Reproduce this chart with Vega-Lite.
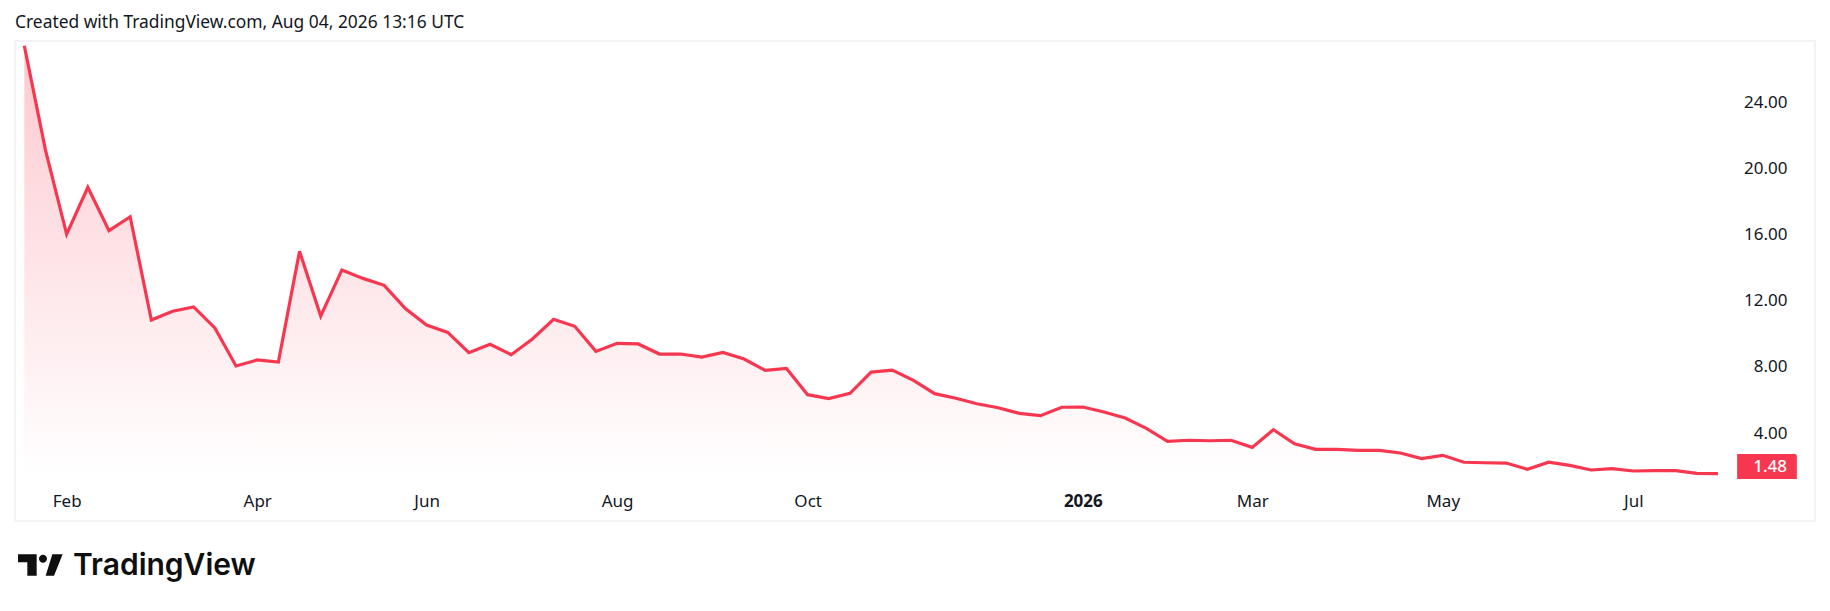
{
  "$schema": "https://vega.github.io/schema/vega-lite/v6.json",
  "width": 1800,
  "height": 480,
  "autosize": "none",
  "padding": {"left": 15, "top": 41, "right": 15, "bottom": 90},
  "background": "white",
  "config": {
    "view": {"stroke": "#f2f3f5", "strokeWidth": 2},
    "font": "Noto Sans"
  },
  "title": {
    "text": "Created with TradingView.com, Aug 04, 2026 13:16 UTC",
    "anchor": "start",
    "frame": "group",
    "font": "Noto Sans",
    "fontSize": 17.4,
    "fontWeight": "normal",
    "color": "#131722",
    "offset": 8
  },
  "layer": [
    {
      "data": {"name": "weekly"},
      "mark": {
        "type": "area",
        "line": false,
        "color": {
          "gradient": "linear",
          "x1": 0, "x2": 0, "y1": 0, "y2": 1,
          "stops": [
            {"offset": 0, "color": "#f7374f45"},
            {"offset": 1, "color": "#f7374f00"}
          ]
        }
      },
      "encoding": {
        "x": {
          "field": "date",
          "type": "temporal",
          "title": null,
          "scale": {"type": "utc", "domain": ["2025-01-16T22:00:00Z", "2026-09-04T02:00:00Z"]},
          "axis": {
            "orient": "bottom",
            "values": ["2025-02-03", "2025-04-07", "2025-06-02", "2025-08-04", "2025-10-06", "2026-01-05", "2026-03-02", "2026-05-04", "2026-07-06"],
            "labelExpr": "utcmonth(datum.value) == 0 ? '2026' : utcFormat(datum.value, '%b')",
            "labelFontWeight": {"condition": {"test": "utcmonth(datum.value) == 0", "value": "bold"}, "value": "normal"},
            "domain": false,
            "ticks": false,
            "grid": false,
            "labelPadding": -20,
            "labelBaseline": "middle",
            "labelAlign": "center",
            "labelFont": "Noto Sans",
            "labelFontSize": 17,
            "labelColor": "#131722",
            "labelOverlap": false,
            "labelFlush": false
          }
        },
        "y": {
          "field": "close",
          "type": "quantitative",
          "title": null,
          "scale": {"domain": [-1.387, 27.67], "nice": false, "zero": false},
          "axis": {
            "orient": "right",
            "values": [4, 8, 12, 16, 20, 24],
            "format": ".2f",
            "domain": false,
            "ticks": false,
            "grid": false,
            "labelPadding": -28,
            "labelOffset": 1,
            "labelAlign": "right",
            "labelBaseline": "middle",
            "labelFont": "Noto Sans",
            "labelFontSize": 17,
            "labelColor": "#131722",
            "labelOverlap": false,
            "labelFlush": false
          }
        },
        "y2": {"datum": 1.3}
      }
    },
    {
      "data": {"name": "weekly"},
      "mark": {"type": "line", "color": "#f7374f", "strokeWidth": 3.2, "strokeJoin": "miter"},
      "encoding": {
        "x": {"field": "date", "type": "temporal"},
        "y": {"field": "close", "type": "quantitative"}
      }
    },
    {
      "data": {"values": [{"last": "1.48"}]},
      "mark": {"type": "rect", "color": "#f7374f", "cornerRadiusTopRight": 2},
      "encoding": {
        "x": {"datum": {"year": 2026, "month": 8, "date": 9, "hours": 8, "utc": true}, "type": "temporal"},
        "x2": {"datum": {"year": 2026, "month": 8, "date": 29, "hours": 2, "utc": true}},
        "y": {"datum": 2.67, "type": "quantitative"},
        "y2": {"datum": 1.155}
      }
    },
    {
      "data": {"values": [{"last": "1.48"}]},
      "mark": {"type": "text", "align": "right", "baseline": "middle", "color": "white", "font": "Noto Sans", "fontSize": 17, "fontWeight": 500},
      "encoding": {
        "x": {"datum": {"year": 2026, "month": 8, "date": 25, "hours": 20, "utc": true}, "type": "temporal"},
        "y": {"datum": 1.91, "type": "quantitative"},
        "text": {"field": "last"}
      }
    },
    {
      "data": {"values": [{"brand": "logo"}]},
      "mark": {
        "type": "point",
        "filled": true,
        "opacity": 1,
        "size": 1995,
        "color": "#0f0f0f",
        "shape": "M-1 -0.478 H-0.164 V0.478 H-0.582 V-0.119 H-1 Z M0.299 -0.284 A0.18 0.18 0 1 1 -0.061 -0.284 A0.18 0.18 0 1 1 0.299 -0.284 Z M0.537 -0.478 H1 L0.612 0.478 H0.239 Z"
      },
      "encoding": {
        "x": {"datum": {"year": 2025, "month": 1, "date": 25, "hours": 7, "utc": true}, "type": "temporal"},
        "y": {"datum": -4.05, "type": "quantitative"}
      }
    },
    {
      "data": {"values": [{"brand": "TradingView"}]},
      "mark": {"type": "text", "align": "left", "baseline": "middle", "color": "#0f0f0f", "font": "Inter", "fontSize": 30, "fontWeight": 600},
      "encoding": {
        "x": {"datum": {"year": 2025, "month": 2, "date": 5, "hours": 2, "utc": true}, "type": "temporal"},
        "y": {"datum": -4.11, "type": "quantitative"},
        "text": {"field": "brand"}
      }
    }
  ],
  "datasets": {
    "weekly": [
      {"date": "2025-01-20", "close": 27.38},
      {"date": "2025-01-27", "close": 21.07},
      {"date": "2025-02-03", "close": 15.97},
      {"date": "2025-02-10", "close": 18.81},
      {"date": "2025-02-17", "close": 16.19},
      {"date": "2025-02-24", "close": 17.03},
      {"date": "2025-03-03", "close": 10.78},
      {"date": "2025-03-10", "close": 11.31},
      {"date": "2025-03-17", "close": 11.57},
      {"date": "2025-03-24", "close": 10.3},
      {"date": "2025-03-31", "close": 8.0},
      {"date": "2025-04-07", "close": 8.36},
      {"date": "2025-04-14", "close": 8.24},
      {"date": "2025-04-21", "close": 14.94},
      {"date": "2025-04-28", "close": 11.02},
      {"date": "2025-05-05", "close": 13.81},
      {"date": "2025-05-12", "close": 13.3},
      {"date": "2025-05-19", "close": 12.88},
      {"date": "2025-05-26", "close": 11.47},
      {"date": "2025-06-02", "close": 10.48},
      {"date": "2025-06-09", "close": 10.03},
      {"date": "2025-06-16", "close": 8.8},
      {"date": "2025-06-23", "close": 9.31},
      {"date": "2025-06-30", "close": 8.68},
      {"date": "2025-07-07", "close": 9.63},
      {"date": "2025-07-14", "close": 10.82},
      {"date": "2025-07-21", "close": 10.4},
      {"date": "2025-07-28", "close": 8.88},
      {"date": "2025-08-04", "close": 9.37},
      {"date": "2025-08-11", "close": 9.33},
      {"date": "2025-08-18", "close": 8.72},
      {"date": "2025-08-25", "close": 8.72},
      {"date": "2025-09-01", "close": 8.54},
      {"date": "2025-09-08", "close": 8.82},
      {"date": "2025-09-15", "close": 8.42},
      {"date": "2025-09-22", "close": 7.73},
      {"date": "2025-09-29", "close": 7.85},
      {"date": "2025-10-06", "close": 6.26},
      {"date": "2025-10-13", "close": 6.02},
      {"date": "2025-10-20", "close": 6.34},
      {"date": "2025-10-27", "close": 7.63},
      {"date": "2025-11-03", "close": 7.75},
      {"date": "2025-11-10", "close": 7.13},
      {"date": "2025-11-17", "close": 6.32},
      {"date": "2025-11-24", "close": 6.04},
      {"date": "2025-12-01", "close": 5.71},
      {"date": "2025-12-08", "close": 5.47},
      {"date": "2025-12-15", "close": 5.13},
      {"date": "2025-12-22", "close": 4.99},
      {"date": "2025-12-29", "close": 5.5},
      {"date": "2026-01-05", "close": 5.51},
      {"date": "2026-01-12", "close": 5.21},
      {"date": "2026-01-19", "close": 4.85},
      {"date": "2026-01-26", "close": 4.22},
      {"date": "2026-02-02", "close": 3.44},
      {"date": "2026-02-09", "close": 3.5},
      {"date": "2026-02-16", "close": 3.47},
      {"date": "2026-02-23", "close": 3.5},
      {"date": "2026-03-02", "close": 3.07},
      {"date": "2026-03-09", "close": 4.14},
      {"date": "2026-03-16", "close": 3.29},
      {"date": "2026-03-23", "close": 2.95},
      {"date": "2026-03-30", "close": 2.95},
      {"date": "2026-04-06", "close": 2.89},
      {"date": "2026-04-13", "close": 2.89},
      {"date": "2026-04-20", "close": 2.73},
      {"date": "2026-04-27", "close": 2.39},
      {"date": "2026-05-04", "close": 2.59},
      {"date": "2026-05-11", "close": 2.17},
      {"date": "2026-05-18", "close": 2.14},
      {"date": "2026-05-25", "close": 2.12},
      {"date": "2026-06-01", "close": 1.74},
      {"date": "2026-06-08", "close": 2.17},
      {"date": "2026-06-15", "close": 1.98},
      {"date": "2026-06-22", "close": 1.7},
      {"date": "2026-06-29", "close": 1.78},
      {"date": "2026-07-06", "close": 1.64},
      {"date": "2026-07-13", "close": 1.66},
      {"date": "2026-07-20", "close": 1.66},
      {"date": "2026-07-27", "close": 1.5},
      {"date": "2026-08-03", "close": 1.48}
    ]
  }
}
